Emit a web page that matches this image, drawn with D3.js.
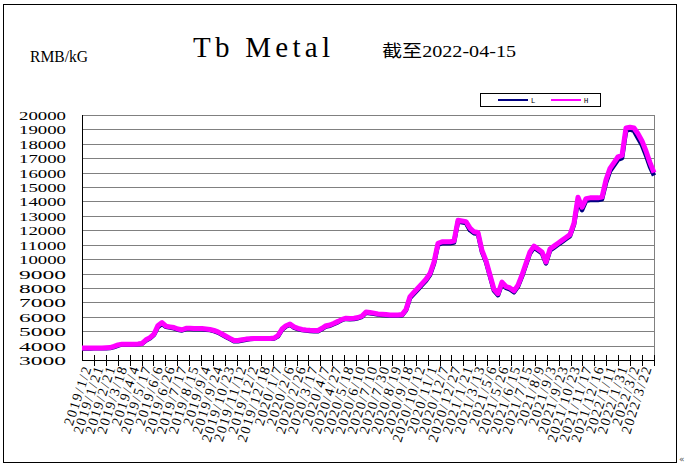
<!DOCTYPE html>
<html><head><meta charset="utf-8">
<script src="https://cdn.jsdelivr.net/npm/d3@7"></script>
<style>body{margin:0;background:#fff;} svg{display:block}</style>
</head><body>
<svg id="c" width="688" height="470"></svg>
<script>
const yTicks = [3000,4000,5000,6000,7000,8000,9000,10000,11000,12000,13000,14000,15000,16000,17000,18000,19000,20000];
const dateLabels = ["2019/1/2","2019/1/21","2019/2/21","2019/3/18","2019/4/4","2019/5/17","2019/6/6","2019/6/26","2019/7/17","2019/8/15","2019/9/4","2019/9/24","2019/10/23","2019/11/12","2019/12/2","2019/12/18","2020/1/7","2020/2/6","2020/2/26","2020/3/17","2020/4/7","2020/4/27","2020/5/18","2020/6/10","2020/7/10","2020/7/30","2020/8/19","2020/9/18","2020/10/12","2020/11/1","2020/12/7","2020/12/27","2021/1/21","2021/3/13","2021/5/6","2021/5/26","2021/6/15","2021/7/15","2021/8/9","2021/9/3","2021/9/23","2021/10/23","2021/11/17","2021/12/16","2022/1/11","2022/1/31","2022/3/2","2022/3/22"];
const seriesH = [
 3830,3830,3830,3840,3840,3840,3850,3860,3950,4050,
 4100,4100,4100,4100,4110,4150,4400,4550,4800,5400,
 5600,5350,5300,5250,5150,5100,5200,5200,5180,5180,
 5180,5150,5120,5050,4950,4800,4650,4500,4350,4350,
 4400,4450,4480,4500,4500,4500,4500,4500,4520,4700,
 5150,5380,5500,5300,5200,5120,5080,5060,5050,5050,
 5200,5380,5430,5550,5680,5820,5900,5880,5900,5950,
 6050,6330,6300,6250,6200,6180,6150,6120,6120,6120,
 6150,6500,7400,7700,8000,8300,8600,9000,9800,11100,
 11200,11200,11200,11250,12700,12650,12600,12150,11900,11850,
 10600,9900,8900,7900,7600,8400,8100,8000,7800,8200,
 8900,9700,10500,10900,10700,10500,9800,10700,10900,11100,
 11300,11500,11700,12500,14300,13600,14200,14250,14250,14250,
 14300,15500,16300,16700,17100,17200,19100,19150,19100,18700,
 18200,17500,16700,16000];
const seriesL = [
 3800,3800,3800,3810,3810,3810,3820,3830,3900,4000,
 4080,4080,4080,4080,4090,4120,4350,4500,4750,5300,
 5500,5300,5250,5200,5100,5050,5150,5150,5130,5130,
 5130,5100,5080,5000,4900,4750,4600,4450,4300,4300,
 4350,4400,4450,4470,4470,4470,4470,4470,4490,4650,
 5100,5330,5450,5250,5150,5080,5040,5020,5000,5000,
 5150,5330,5380,5500,5630,5780,5850,5830,5850,5900,
 6000,6280,6250,6200,6150,6130,6100,6080,6080,6080,
 6100,6450,7300,7600,7900,8200,8500,8900,9700,11000,
 11100,11100,11100,11150,12600,12550,12500,12000,11800,11750,
 10500,9800,8800,7800,7500,8300,8000,7900,7700,8100,
 8800,9600,10400,10800,10600,10400,9700,10600,10800,11000,
 11200,11400,11600,12400,14100,13400,14050,14100,14100,14100,
 14150,15300,16100,16500,16900,17000,18900,19000,18900,18400,
 17900,17200,16400,15800];
const seriesNames = ["L","H"];

const svg = d3.select("#c");
const P = {left:82, right:654, top:115, bottom:360};
const serif = "'Liberation Serif','DejaVu Serif',serif";

svg.append("rect").attr("x",3.5).attr("y",4.5).attr("width",673).attr("height",458)
  .attr("fill","#fff").attr("stroke","#000").attr("stroke-width",1);

const y = d3.scaleLinear().domain([3000,20000]).range([P.bottom,P.top]);
const x = d3.scaleLinear().domain([0, seriesH.length-1]).range([P.left,P.right]);
const xb = d3.scaleBand().domain(dateLabels).range([P.left,P.right]);

// gridlines
svg.append("g").selectAll("line").data(yTicks.filter(v=>v>3000)).join("line")
  .attr("x1",P.left).attr("x2",P.right)
  .attr("y1",d=>Math.round(y(d))+0.5).attr("y2",d=>Math.round(y(d))+0.5)
  .attr("stroke","#808080").attr("stroke-width",1);
// right border
svg.append("line").attr("x1",P.right+0.5).attr("x2",P.right+0.5).attr("y1",P.top).attr("y2",P.bottom)
  .attr("stroke","#808080");

// y labels
svg.append("g").selectAll("text").data(yTicks).join("text")
  .attr("x",66).attr("y",d=>y(d)+5)
  .attr("text-anchor","end").attr("font-family",serif).attr("font-size",13)
  .attr("textLength",47).attr("lengthAdjust","spacingAndGlyphs")
  .attr("fill","#000").text(d=>d);

// axes lines
svg.append("line").attr("x1",P.left+0.5).attr("x2",P.left+0.5).attr("y1",P.top).attr("y2",P.bottom)
  .attr("stroke","#000");
svg.append("line").attr("x1",P.left).attr("x2",P.right+1).attr("y1",P.bottom+0.5).attr("y2",P.bottom+0.5)
  .attr("stroke","#000");
// x ticks
svg.append("g").selectAll("line").data(dateLabels).join("line")
  .attr("x1",d=>Math.round(xb(d)+xb.bandwidth())+0.5).attr("x2",d=>Math.round(xb(d)+xb.bandwidth())+0.5)
  .attr("y1",P.bottom-5).attr("y2",P.bottom+6).attr("stroke","#000");
// x labels
svg.append("g").selectAll("text").data(dateLabels).join("text")
  .attr("transform",d=>`translate(${xb(d)+xb.bandwidth()/2+4},${P.bottom+7}) rotate(-72)`)
  .attr("text-anchor","end").attr("font-family",serif).attr("font-size",14)
  .attr("letter-spacing",1.6)
  .attr("fill","#000").text(d=>d);

// lines
const lineGen = d3.line().x((d,i)=>x(i)).y(d=>y(d)).curve(d3.curveLinear);
svg.append("path").datum(seriesL).attr("d",lineGen).attr("fill","none")
  .attr("stroke","#000080").attr("stroke-width",4.5).attr("stroke-linejoin","round");
svg.append("path").datum(seriesH).attr("d",lineGen).attr("fill","none")
  .attr("stroke","#FF00FF").attr("stroke-width",5).attr("stroke-linejoin","round");

// legend
const lg = svg.append("g");
lg.append("rect").attr("x",480.5).attr("y",93.5).attr("width",120).attr("height",13)
  .attr("fill","#fff").attr("stroke","#000");
const legColors = ["#000080","#FF00FF"];
const legX = [498,551];
seriesNames.forEach((n,i)=>{
  lg.append("line").attr("x1",legX[i]).attr("x2",legX[i]+30).attr("y1",100).attr("y2",100)
    .attr("stroke",legColors[i]).attr("stroke-width",2);
  lg.append("text").attr("x",legX[i]+33).attr("y",103).attr("font-family","'DejaVu Sans Mono',monospace")
    .attr("font-size",7).attr("fill","#000").text(n);
});

// titles
svg.append("text").attr("x",193).attr("y",57).attr("font-family",serif).attr("font-size",29)
  .attr("textLength",137).attr("lengthAdjust","spacing").attr("fill","#000").text("Tb Metal");
svg.append("text").attr("x",382).attr("y",57).attr("font-family","'Liberation Serif','Noto Sans CJK SC',serif")
  .attr("font-size",17).attr("textLength",134).attr("lengthAdjust","spacingAndGlyphs").attr("fill","#000").text("截至2022-04-15");
svg.append("text").attr("x",30).attr("y",62).attr("font-family",serif).attr("font-size",16)
  .attr("textLength",58).attr("lengthAdjust","spacingAndGlyphs").attr("fill","#000").text("RMB/kG");
svg.append("text").attr("x",679).attr("y",462).attr("font-family","'DejaVu Sans',sans-serif")
  .attr("font-size",9).attr("fill","#555").text("«");
</script>
</body></html>
